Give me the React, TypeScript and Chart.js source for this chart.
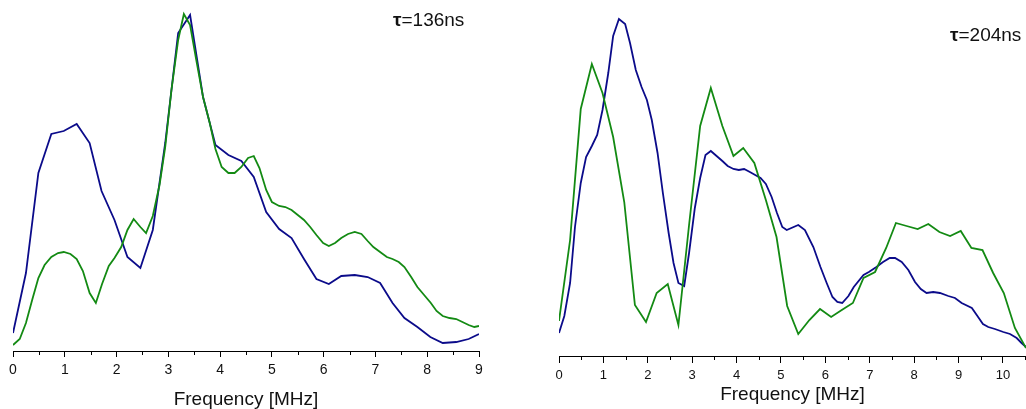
import React, { useEffect, useRef } from 'react';
import { Chart, registerables } from 'chart.js';

Chart.register(...registerables);

// ---------- data (amplitude in arbitrary units, frequency in MHz) ----------
const leftBlueX = [0, 0.25, 0.49, 0.74, 0.98, 1.23, 1.48, 1.71, 1.96, 2.21, 2.46, 2.7, 2.94, 3.19, 3.42, 3.67, 3.91, 4.16, 4.41, 4.65, 4.89, 5.14, 5.38, 5.62, 5.86, 6.1, 6.34, 6.6, 6.85, 7.09, 7.33, 7.56, 7.81, 8.06, 8.3, 8.56, 8.8, 9.0];
const leftBlueY = [18, 78, 178, 217, 220, 227, 208, 160, 131, 94, 83, 121, 208, 318, 336, 254, 206, 196, 190, 174, 139, 122, 113, 92, 72, 67, 75, 76, 74, 68, 48, 33, 24, 14, 8, 9, 12, 17];

const leftGreenX = [0, 0.13, 0.25, 0.37, 0.49, 0.61, 0.74, 0.87, 0.98, 1.11, 1.23, 1.35, 1.48, 1.6, 1.72, 1.85, 1.96, 2.09, 2.21, 2.33, 2.46, 2.57, 2.7, 2.83, 2.94, 3.06, 3.19, 3.3, 3.42, 3.54, 3.67, 3.8, 3.91, 4.03, 4.16, 4.28, 4.41, 4.54, 4.65, 4.76, 4.89, 5.0, 5.14, 5.26, 5.38, 5.5, 5.62, 5.74, 5.86, 5.99, 6.1, 6.22, 6.34, 6.47, 6.6, 6.73, 6.85, 6.96, 7.09, 7.22, 7.33, 7.45, 7.56, 7.69, 7.81, 7.94, 8.07, 8.18, 8.3, 8.43, 8.56, 8.68, 8.8, 8.91, 9.0];
const leftGreenY = [6, 12, 28, 51, 73, 86, 94, 98, 99, 97, 92, 80, 58, 48, 67, 85, 93, 104, 121, 132, 124, 118, 135, 166, 204, 261, 311, 337, 326, 291, 254, 228, 202, 184, 178, 178, 184, 193, 195, 183, 161, 149, 145, 144, 141, 136, 131, 124, 116, 108, 105, 108, 113, 117, 119, 117, 110, 104, 99, 94, 92, 89, 84, 74, 64, 56, 48, 40, 35, 33, 32, 29, 26, 24, 25];

const rightBlueX = [0, 0.12, 0.25, 0.36, 0.49, 0.61, 0.74, 0.86, 0.98, 1.11, 1.22, 1.35, 1.49, 1.6, 1.73, 1.86, 1.98, 2.09, 2.22, 2.34, 2.47, 2.58, 2.69, 2.82, 2.93, 3.06, 3.18, 3.3, 3.42, 3.55, 3.68, 3.8, 3.93, 4.05, 4.17, 4.3, 4.42, 4.54, 4.66, 4.79, 4.91, 5.03, 5.13, 5.39, 5.54, 5.73, 5.89, 6.03, 6.16, 6.27, 6.38, 6.52, 6.64, 6.86, 6.98, 7.15, 7.3, 7.45, 7.57, 7.72, 7.87, 8.02, 8.15, 8.28, 8.43, 8.58, 8.77, 8.92, 9.07, 9.3, 9.41, 9.55, 9.67, 9.82, 10.01, 10.16, 10.31, 10.42, 10.52];
const rightBlueY = [23, 40, 73, 129, 173, 199, 210, 221, 246, 283, 320, 337, 332, 313, 286, 269, 256, 236, 203, 163, 123, 93, 73, 70, 103, 148, 178, 201, 205, 200, 195, 190, 187, 186, 187, 184, 181, 178, 172, 159, 143, 129, 126, 131, 126, 109, 89, 73, 59, 54, 53, 60, 69, 81, 84, 89, 94, 98, 98, 94, 86, 74, 67, 63, 64, 63, 60, 58, 53, 48, 41, 32, 29, 27, 24, 22, 18, 13, 9];

const rightGreenX = [0, 0.25, 0.49, 0.74, 0.98, 1.22, 1.47, 1.71, 1.96, 2.2, 2.45, 2.69, 2.93, 3.18, 3.42, 3.68, 3.93, 4.15, 4.4, 4.66, 4.9, 5.14, 5.39, 5.64, 5.88, 6.13, 6.37, 6.62, 6.86, 7.12, 7.37, 7.59, 7.83, 8.08, 8.32, 8.57, 8.81, 9.05, 9.29, 9.54, 9.78, 10.02, 10.27, 10.52];
const rightGreenY = [35, 116, 247, 292, 263, 219, 154, 51, 34, 63, 72, 31, 131, 230, 268, 230, 200, 208, 193, 156, 119, 50, 22, 36, 47, 39, 46, 53, 78, 84, 108, 133, 130, 127, 132, 124, 120, 125, 108, 106, 83, 63, 28, 8];

const axisTitle = 'Frequency [MHz]';
const tauSymbol = 'τ';
const leftTauText = '=136ns';
const rightTauText = '=204ns';

const NAVY = '#0b0b8a';
const GREEN = '#138a13';
const FONT = '"Liberation Sans", Arial, Helvetica, sans-serif';

function toPoints(xs: number[], ys: number[]) {
  return xs.map((x, i) => ({ x, y: ys[i] }));
}

const minorTicksPlugin = {
  id: 'minorTicks',
  afterDraw(chart: any, _args: any, opts: any) {
    const s = chart.scales.x;
    const ctx = chart.ctx;
    ctx.save();
    ctx.strokeStyle = '#000';
    ctx.lineWidth = 1;
    for (let v = 0.5; v < s.max; v += 1) {
      const px = Math.round(s.getPixelForValue(v)) + 0.5;
      ctx.beginPath();
      ctx.moveTo(px, s.top);
      ctx.lineTo(px, s.top + opts.len);
      ctx.stroke();
    }
    ctx.restore();
  },
};

type PanelProps = {
  left: number;
  width: number;
  padLeft: number;
  padRight: number;
  padTop: number;
  axisHeight: number;
  xMax: number;
  yMax: number;
  blue: { x: number; y: number }[];
  green: { x: number; y: number }[];
  tickFont: number;
  tickLen: number;
  tickPad: number;
  titlePadBottom: number;
};

function Panel(p: PanelProps) {
  const ref = useRef<HTMLCanvasElement | null>(null);
  useEffect(() => {
    if (!ref.current) return;
    const chart = new Chart(ref.current, {
      type: 'line',
      data: {
        datasets: [
          { data: p.green, borderColor: GREEN, borderWidth: 1.8, pointRadius: 0, tension: 0, fill: false },
          { data: p.blue, borderColor: NAVY, borderWidth: 1.8, pointRadius: 0, tension: 0, fill: false },
        ],
      },
      options: {
        responsive: false,
        animation: false,
        events: [],
        layout: { padding: { left: p.padLeft, right: p.padRight, top: p.padTop, bottom: 0 } },
        plugins: {
          legend: { display: false },
          tooltip: { enabled: false },
          title: { display: false },
          minorTicks: { len: 4 },
        } as any,
        scales: {
          x: {
            type: 'linear',
            min: 0,
            max: p.xMax,
            afterFit: (scale: any) => {
              scale.height = p.axisHeight;
            },
            ticks: {
              stepSize: 1,
              autoSkip: false,
              maxRotation: 0,
              includeBounds: false,
              padding: p.tickPad,
              color: '#111',
              font: { family: FONT, size: p.tickFont, lineHeight: 1.2 },
              callback: (v: any) => (Number.isInteger(v) ? String(v) : ''),
            },
            grid: {
              drawOnChartArea: false,
              drawTicks: true,
              tickLength: p.tickLen,
              tickColor: '#000',
              color: '#000',
            },
            border: { display: true, color: '#000', width: 1 },
            title: {
              display: true,
              text: axisTitle,
              color: '#111',
              font: { family: FONT, size: 19, lineHeight: 1 },
              padding: { top: 0, bottom: p.titlePadBottom },
            },
          },
          y: {
            type: 'linear',
            display: false,
            min: 0,
            max: p.yMax,
          },
        },
      },
      plugins: [minorTicksPlugin],
    } as any);
    return () => chart.destroy();
  }, []);
  return (
    <canvas
      ref={ref}
      width={p.width}
      height={409}
      style={{ position: 'absolute', left: p.left, top: 0, width: p.width, height: 409, display: 'block' }}
    />
  );
}

function TauLabel({ left, top, text }: { left: number; top: number; text: string }) {
  return (
    <div
      style={{
        position: 'absolute',
        left,
        top,
        fontFamily: FONT,
        fontSize: 19,
        lineHeight: 1,
        color: '#111',
        whiteSpace: 'nowrap',
      }}
    >
      <span style={{ fontWeight: 'bold' }}>{tauSymbol}</span>
      {text}
    </div>
  );
}

export default function App() {
  return (
    <div style={{ position: 'absolute', left: 0, top: 0, width: 1026, height: 409, background: '#fff', overflow: 'hidden' }}>
      <Panel
        left={0}
        width={500}
        padLeft={13}
        padRight={21}
        padTop={10}
        axisHeight={58}
        xMax={9}
        yMax={341}
        blue={toPoints(leftBlueX, leftBlueY)}
        green={toPoints(leftGreenX, leftGreenY)}
        tickFont={14}
        tickLen={6}
        tickPad={5}
        titlePadBottom={0}
      />
      <Panel
        left={520}
        width={506}
        padLeft={39}
        padRight={0}
        padTop={6}
        axisHeight={53}
        xMax={10.52}
        yMax={350}
        blue={toPoints(rightBlueX, rightBlueY)}
        green={toPoints(rightGreenX, rightGreenY)}
        tickFont={13}
        tickLen={7}
        tickPad={5}
        titlePadBottom={5}
      />
      <TauLabel left={393} top={10} text={leftTauText} />
      <TauLabel left={950} top={25} text={rightTauText} />
    </div>
  );
}
